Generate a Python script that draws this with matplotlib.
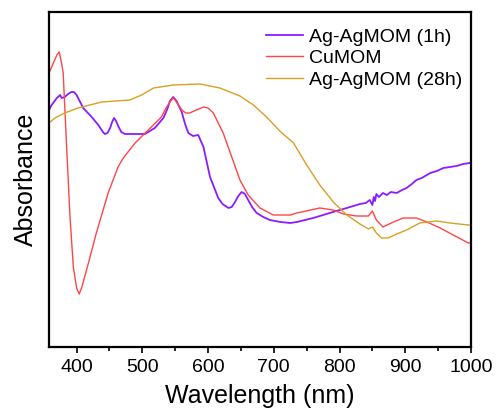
import matplotlib
matplotlib.use("Agg")
import matplotlib.pyplot as plt
from matplotlib.ticker import MultipleLocator, NullLocator

plt.rcParams['font.family'] = ['Liberation Sans', 'DejaVu Sans']

# CuMOM (red)
cu_wl = [358, 366, 370, 373.5, 377, 379.6, 385, 390, 395, 400, 404, 408, 418, 430, 448, 463, 471, 489, 509, 529,
         536, 543, 547, 551, 560, 566, 572, 582, 593, 600, 608, 623, 636, 648.5, 661, 679, 699, 725, 735, 770, 790, 806, 826,
         844, 850, 856, 866, 882, 897, 917, 933, 953, 973, 996, 1000]
cu_abs = [2.74, 2.86, 2.92, 2.95, 2.84, 2.74, 1.97, 1.30, 0.80, 0.59, 0.53, 0.60, 0.84, 1.14, 1.54, 1.80, 1.89, 2.04, 2.17, 2.30,
          2.39, 2.46, 2.49, 2.46, 2.37, 2.34, 2.34, 2.37, 2.40, 2.39, 2.34, 2.14, 1.90, 1.67, 1.52, 1.39, 1.32, 1.32, 1.34, 1.39, 1.37, 1.33, 1.31,
          1.31, 1.36, 1.27, 1.20, 1.25, 1.29, 1.29, 1.25, 1.19, 1.12, 1.04, 1.04]

# Ag-AgMOM (1h) (purple)
ag1_wl = [358, 362, 370, 375, 377, 382, 387, 392, 396, 400, 410, 423, 433, 440, 443, 447, 451, 454, 457, 460, 464, 468,
          473.5, 489, 504, 519, 532, 538, 542, 547, 552, 560, 565, 570, 577, 585, 593, 603, 615.5, 622, 631, 636, 641, 646,
          651, 656, 661, 667, 674, 684, 694, 710, 725, 735, 760, 785, 811, 831, 840, 846, 850, 852, 854, 856, 860, 866, 872,
          878, 887, 895, 902, 910, 917, 925, 938, 948, 958, 968, 978, 988, 998, 1000]
ag1_abs = [2.37, 2.42, 2.49, 2.52, 2.49, 2.50, 2.53, 2.55, 2.55, 2.52, 2.39, 2.30, 2.22, 2.15, 2.13, 2.14, 2.19, 2.25, 2.29, 2.26, 2.20, 2.15,
           2.13, 2.13, 2.13, 2.19, 2.29, 2.38, 2.46, 2.50, 2.46, 2.35, 2.23, 2.14, 2.11, 2.12, 2.00, 1.70, 1.49, 1.43, 1.39, 1.40, 1.45, 1.51,
           1.55, 1.53, 1.47, 1.40, 1.34, 1.30, 1.27, 1.25, 1.24, 1.25, 1.29, 1.34, 1.39, 1.43, 1.44, 1.47, 1.42, 1.50, 1.46, 1.53, 1.50, 1.54, 1.52,
           1.55, 1.54, 1.57, 1.59, 1.63, 1.67, 1.69, 1.74, 1.76, 1.79, 1.80, 1.81, 1.83, 1.84, 1.85]

# Ag-AgMOM (28h) (gold)
ag28_wl = [358, 367, 382, 402, 438, 481, 499, 517, 547, 588, 618, 648.5, 669, 689, 709, 730, 750, 770,
           790.5, 811, 831, 844, 850, 856, 864, 874, 887, 902, 922, 948, 968, 996, 1000]
ag28_abs = [2.24, 2.29, 2.34, 2.39, 2.45, 2.47, 2.52, 2.59, 2.62, 2.63, 2.59, 2.51, 2.42, 2.30, 2.16, 2.04, 1.82, 1.62,
            1.45, 1.32, 1.23, 1.18, 1.20, 1.14, 1.09, 1.09, 1.13, 1.17, 1.24, 1.26, 1.24, 1.22, 1.22]

labels = ['Ag-AgMOM (1h)', 'CuMOM', 'Ag-AgMOM (28h)']
colors = ['#8a1cff', '#ff4545', '#d9a021']

fig = plt.figure(figsize=(4.97, 4.12), dpi=100)
ax = fig.add_axes([49/497, 1-347/412, (471-49)/497, (347-12)/412])

ax.plot(ag1_wl, ag1_abs, color=colors[0], lw=1.3, label=labels[0])
ax.plot(cu_wl, cu_abs, color=colors[1], lw=1.0, label=labels[1])
ax.plot(ag28_wl, ag28_abs, color=colors[2], lw=1.0, label=labels[2])

ax.set_xlim(358, 1000)
ax.set_ylim(0, 3.35)
ax.xaxis.set_major_locator(MultipleLocator(100))
ax.xaxis.set_minor_locator(MultipleLocator(50))
ax.yaxis.set_major_locator(NullLocator())
ax.tick_params(axis='x', which='major', direction='out', length=4.5, width=1.2, labelsize=14, pad=4)
ax.tick_params(axis='x', which='minor', direction='out', length=3, width=1.2)
for s in ax.spines.values():
    s.set_linewidth(1.6)

ax.set_xlabel('Wavelength (nm)', fontsize=18, labelpad=6)
ax.set_ylabel('Absorbance', fontsize=18, labelpad=8)

leg = ax.legend(loc='upper left', bbox_to_anchor=(0.515, 0.952), frameon=False, fontsize=14,
                handlelength=1.9, handletextpad=0.3, labelspacing=0.2, borderpad=0, borderaxespad=0)

fig.savefig('out.png', dpi=100)
